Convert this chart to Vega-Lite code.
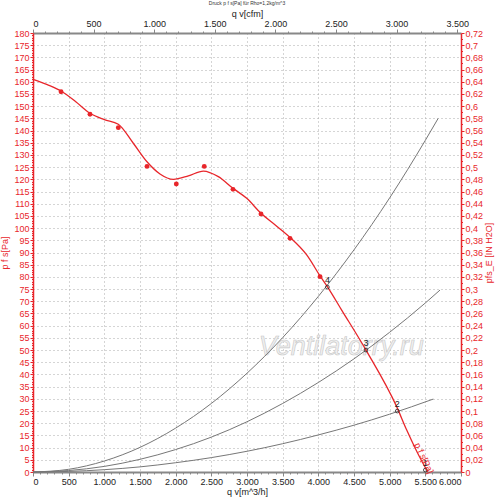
{
  "$schema": "https://vega.github.io/schema/vega-lite/v6.json",
  "width": 428,
  "height": 439,
  "autosize": "none",
  "padding": {"left": 33, "top": 33, "right": 39, "bottom": 27},
  "title": {
    "text": "Druck p f s[Pa] für Rho=1,2kg/m^3",
    "font": "Liberation Sans",
    "fontSize": 5,
    "fontWeight": "normal",
    "color": "#333333",
    "anchor": "middle",
    "offset": 3
  },
  "datasets": {
    "fan": [
      {"q": 0, "p": 161},
      {"q": 200, "p": 158.8},
      {"q": 393, "p": 156.2},
      {"q": 600, "p": 151.8},
      {"q": 799, "p": 147.1},
      {"q": 1000, "p": 144.5},
      {"q": 1196, "p": 142.6},
      {"q": 1406, "p": 134.8},
      {"q": 1598, "p": 127.2},
      {"q": 1780, "p": 122.2},
      {"q": 1967, "p": 120.0},
      {"q": 2178, "p": 121.4},
      {"q": 2388, "p": 123.4},
      {"q": 2598, "p": 121.1},
      {"q": 2804, "p": 116.3},
      {"q": 2996, "p": 112.2},
      {"q": 3196, "p": 106.1},
      {"q": 3400, "p": 101.2},
      {"q": 3603, "p": 96.2},
      {"q": 3837, "p": 89.0},
      {"q": 4024, "p": 80.4},
      {"q": 4126, "p": 76.0},
      {"q": 4327, "p": 66.4},
      {"q": 4668, "p": 50.0},
      {"q": 5098, "p": 26.8},
      {"q": 5239, "p": 17.2},
      {"q": 5379, "p": 8.5},
      {"q": 5533, "p": 0}
    ],
    "dots": [
      {"q": 393, "p": 155.9},
      {"q": 799, "p": 146.7},
      {"q": 1196, "p": 141.2},
      {"q": 1598, "p": 125.3},
      {"q": 2009, "p": 118.1},
      {"q": 2401, "p": 125.3},
      {"q": 2804, "p": 115.9},
      {"q": 3196, "p": 105.8},
      {"q": 3603, "p": 95.8},
      {"q": 4024, "p": 80.1}
    ],
    "sys": [
      {"k": "A", "q": 0, "p": 0},
      {"k": "A", "q": 500, "p": 1.1},
      {"k": "A", "q": 1000, "p": 4.5},
      {"k": "A", "q": 1500, "p": 10.1},
      {"k": "A", "q": 2000, "p": 18.0},
      {"k": "A", "q": 2500, "p": 28.1},
      {"k": "A", "q": 3000, "p": 40.5},
      {"k": "A", "q": 3500, "p": 55.1},
      {"k": "A", "q": 4000, "p": 72.0},
      {"k": "A", "q": 4500, "p": 91.1},
      {"k": "A", "q": 5000, "p": 112.4},
      {"k": "A", "q": 5500, "p": 136.0},
      {"k": "A", "q": 5680, "p": 145.0},
      {"k": "B", "q": 0, "p": 0},
      {"k": "B", "q": 500, "p": 0.6},
      {"k": "B", "q": 1000, "p": 2.3},
      {"k": "B", "q": 1500, "p": 5.2},
      {"k": "B", "q": 2000, "p": 9.2},
      {"k": "B", "q": 2500, "p": 14.3},
      {"k": "B", "q": 3000, "p": 20.6},
      {"k": "B", "q": 3500, "p": 28.1},
      {"k": "B", "q": 4000, "p": 36.7},
      {"k": "B", "q": 4500, "p": 46.4},
      {"k": "B", "q": 5000, "p": 57.3},
      {"k": "B", "q": 5500, "p": 69.3},
      {"k": "B", "q": 5706, "p": 74.6},
      {"k": "C", "q": 0, "p": 0},
      {"k": "C", "q": 500, "p": 0.24},
      {"k": "C", "q": 1000, "p": 0.95},
      {"k": "C", "q": 1500, "p": 2.1},
      {"k": "C", "q": 2000, "p": 3.8},
      {"k": "C", "q": 2500, "p": 5.9},
      {"k": "C", "q": 3000, "p": 8.5},
      {"k": "C", "q": 3500, "p": 11.6},
      {"k": "C", "q": 4000, "p": 15.2},
      {"k": "C", "q": 4500, "p": 19.2},
      {"k": "C", "q": 5000, "p": 23.7},
      {"k": "C", "q": 5612, "p": 29.9}
    ],
    "ops": [
      {"n": "4", "q": 4127, "p": 75.8},
      {"n": "3", "q": 4668, "p": 50.0},
      {"n": "2", "q": 5107, "p": 25.0},
      {"n": "1", "q": 5500, "p": 0.8}
    ]
  },
  "layer": [
    {
      "encoding": {
        "x": {
          "field": "q",
          "type": "quantitative",
          "scale": {"domain": [0, 6000], "nice": false},
          "axis": {
            "orient": "bottom",
            "title": "q v[m^3/h]",
            "tickCount": 60,
            "labelExpr": "datum.value % 500 === 0 ? replace(format(datum.value, ',d'), ',', '.') : ''",
            "labelOverlap": false,
            "labelFont": "Liberation Sans",
            "labelFontSize": 9,
            "labelColor": "#222222",
            "labelPadding": 1,
            "titleFont": "Liberation Sans",
            "titleFontSize": 9,
            "titleFontWeight": "normal",
            "titleColor": "#222222",
            "titlePadding": 1,
            "domainColor": "#888888",
            "domainWidth": 2,
            "tickColor": "#888888",
            "tickSize": {"condition": {"test": "datum.value % 500 === 0", "value": 4}, "value": 2},
            "grid": true,
            "gridDash": [1, 3],
            "gridColor": "#aaaaaa",
            "gridOpacity": {"condition": {"test": "datum.value % 500 === 0 && datum.value > 0 && datum.value < 6000", "value": 1}, "value": 0}
          }
        },
        "y": {
          "field": "p",
          "type": "quantitative",
          "scale": {"domain": [0, 180], "nice": false},
          "axis": {
            "orient": "left",
            "title": "p f s[Pa]",
            "tickCount": 180,
            "labelExpr": "datum.value % 5 === 0 ? datum.label : ''",
            "labelOverlap": false,
            "labelFont": "Liberation Sans",
            "labelFontSize": 9,
            "labelColor": "#e8262b",
            "labelPadding": 1,
            "titleFont": "Liberation Sans",
            "titleFontSize": 9,
            "titleFontWeight": "normal",
            "titleColor": "#e8262b",
            "titlePadding": 4,
            "domainColor": "#e8262b",
            "domainWidth": 1.5,
            "tickColor": "#e8262b",
            "tickSize": {"condition": {"test": "datum.value % 5 === 0", "value": 3}, "value": 1.5},
            "grid": true,
            "gridDash": [1, 3],
            "gridColor": "#aaaaaa",
            "gridOpacity": {"condition": {"test": "datum.value % 5 === 0 && datum.value > 0 && datum.value < 180", "value": 1}, "value": 0}
          }
        }
      },
      "layer": [
        {
          "data": {"values": [{"q": 4320, "p": 51.3, "t": "Ventilatorry.ru"}]},
          "mark": {
            "type": "text",
            "font": "Liberation Sans",
            "fontSize": 27,
            "fontStyle": "italic",
            "fill": "#f0f0f0",
            "stroke": "#c8c8c8",
            "strokeWidth": 0.6,
            "align": "center",
            "baseline": "middle"
          },
          "encoding": {"text": {"field": "t"}}
        },
        {
          "data": {"name": "sys"},
          "mark": {"type": "line", "color": "#777777", "strokeWidth": 1, "interpolate": "monotone"},
          "encoding": {"detail": {"field": "k"}}
        },
        {
          "data": {"name": "fan"},
          "mark": {"type": "line", "color": "#e8262b", "strokeWidth": 1.3, "interpolate": "monotone"},
          "encoding": {}
        },
        {
          "data": {"name": "dots"},
          "mark": {"type": "point", "shape": "circle", "filled": true, "color": "#e8262b", "size": 24, "opacity": 1},
          "encoding": {}
        },
        {
          "data": {"name": "ops"},
          "mark": {"type": "point", "shape": "circle", "filled": false, "stroke": "#222222", "strokeWidth": 0.8, "size": 14, "opacity": 1},
          "encoding": {}
        },
        {
          "data": {"name": "ops"},
          "mark": {"type": "text", "font": "Liberation Sans", "fontSize": 9, "color": "#222222", "dy": -7},
          "encoding": {"text": {"field": "n"}}
        },
        {
          "data": {"values": [{"q": 5482, "p": 5.7, "t": "p f s[Pa]"}]},
          "mark": {"type": "text", "font": "Liberation Sans", "fontSize": 9, "color": "#e8262b", "angle": 65, "align": "center", "baseline": "middle"},
          "encoding": {"text": {"field": "t"}}
        }
      ]
    },
    {
      "data": {"values": [{"cfm": 0}, {"cfm": 3531.5}]},
      "mark": {"type": "point", "opacity": 0},
      "encoding": {
        "x": {
          "field": "cfm",
          "type": "quantitative",
          "scale": {"domain": [0, 3531.5], "nice": false},
          "axis": {
            "orient": "top",
            "title": "q v[cfm]",
            "tickCount": 35,
            "labelExpr": "datum.value % 500 === 0 ? replace(format(datum.value, ',d'), ',', '.') : ''",
            "labelOverlap": false,
            "labelFont": "Liberation Sans",
            "labelFontSize": 9,
            "labelColor": "#222222",
            "labelPadding": 1,
            "titleFont": "Liberation Sans",
            "titleFontSize": 9,
            "titleFontWeight": "normal",
            "titleColor": "#222222",
            "titlePadding": 1,
            "domainColor": "#888888",
            "domainWidth": 2,
            "tickColor": "#888888",
            "tickSize": {"condition": {"test": "datum.value % 500 === 0", "value": 4}, "value": 2},
            "grid": false
          }
        }
      }
    },
    {
      "data": {"values": [{"w": 0}, {"w": 0.72}]},
      "mark": {"type": "point", "opacity": 0},
      "encoding": {
        "y": {
          "field": "w",
          "type": "quantitative",
          "scale": {"domain": [0, 0.72], "nice": false},
          "axis": {
            "orient": "right",
            "title": "pfs_E [IN H2O]",
            "titleAngle": 270,
            "titleBaseline": "top",
            "tickCount": 72,
            "labelExpr": "round(datum.value * 100) % 2 === 0 ? replace(format(datum.value, '.2~f'), '.', ',') : ''",
            "labelOverlap": false,
            "labelFont": "Liberation Sans",
            "labelFontSize": 9,
            "labelColor": "#e8262b",
            "labelPadding": 1,
            "titleFont": "Liberation Sans",
            "titleFontSize": 9,
            "titleFontWeight": "normal",
            "titleColor": "#e8262b",
            "titlePadding": 2,
            "domainColor": "#e8262b",
            "domainWidth": 1.5,
            "tickColor": "#e8262b",
            "tickSize": {"condition": {"test": "round(datum.value * 100) % 2 === 0", "value": 3}, "value": 1.5},
            "grid": false
          }
        }
      }
    }
  ],
  "resolve": {"scale": {"x": "independent", "y": "independent"}},
  "config": {
    "view": {"stroke": null},
    "background": "#ffffff"
  }
}
